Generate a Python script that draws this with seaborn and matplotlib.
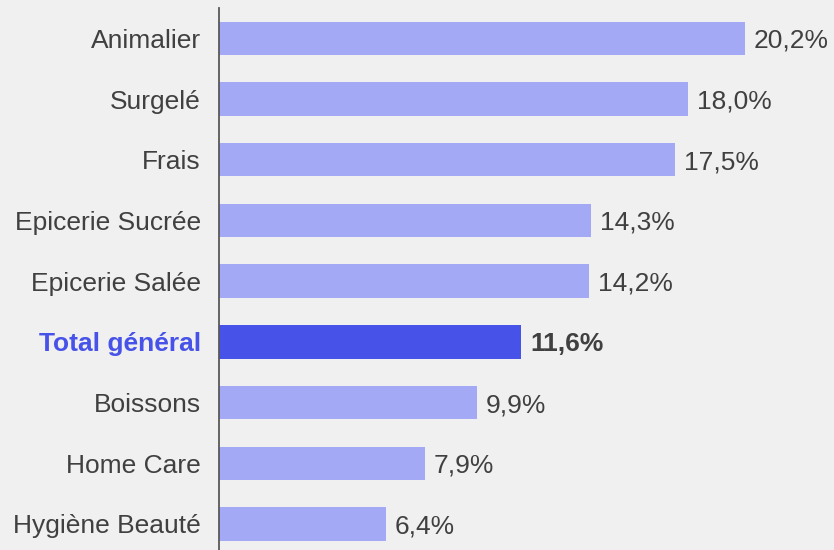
import matplotlib
matplotlib.use("Agg")
import matplotlib.pyplot as plt
import seaborn as sns
import pandas as pd

categories = ["Animalier", "Surgelé", "Frais", "Epicerie Sucrée", "Epicerie Salée",
              "Total général", "Boissons", "Home Care", "Hygiène Beauté"]
values = [20.2, 18.0, 17.5, 14.3, 14.2, 11.6, 9.9, 7.9, 6.4]
labels = ["20,2%", "18,0%", "17,5%", "14,3%", "14,2%", "11,6%", "9,9%", "7,9%", "6,4%"]
highlight = "Total général"

sns.set_style("white")
plt.rcParams['font.family'] = ['Liberation Sans', 'DejaVu Sans']

bg = "#f0f0f0"
light = "#a3a9f4"
dark = "#4753e8"
txt = "#404040"
fs = 19

df = pd.DataFrame({"cat": categories, "val": values})
colors = [dark if c == highlight else light for c in categories]

fig = plt.figure(figsize=(8.34, 5.5), dpi=100, facecolor=bg)
ax = fig.add_axes([219/834, 0, (834-219)/834, (550-8)/550])
ax.set_facecolor(bg)
sns.barplot(data=df, x="val", y="cat", hue="cat", palette=colors, legend=False,
            width=0.55, ax=ax, saturation=1, linewidth=0)

ax.set_xlim(0, (834-219)/26.04)
ax.set_ylim(8.43, -0.5)
ax.set_xlabel("")
ax.set_ylabel("")
ax.set_xticks([])
for s in ["top", "right", "bottom"]:
    ax.spines[s].set_visible(False)
ax.spines["left"].set_color("#595959")
ax.spines["left"].set_linewidth(1.3)
ax.tick_params(axis="y", length=0, pad=13, labelsize=fs, labelcolor=txt)

for i, (c, v, l) in enumerate(zip(categories, values, labels)):
    bold = c == highlight
    ax.text(v + 0.35, i, l, va="center_baseline", ha="left", fontsize=fs, color=txt,
            fontweight="bold" if bold else "normal")

for t in ax.get_yticklabels():
    if t.get_text() == highlight:
        t.set_color(dark)
        t.set_fontweight("bold")

fig.savefig("out.png", dpi=100, facecolor=bg)
